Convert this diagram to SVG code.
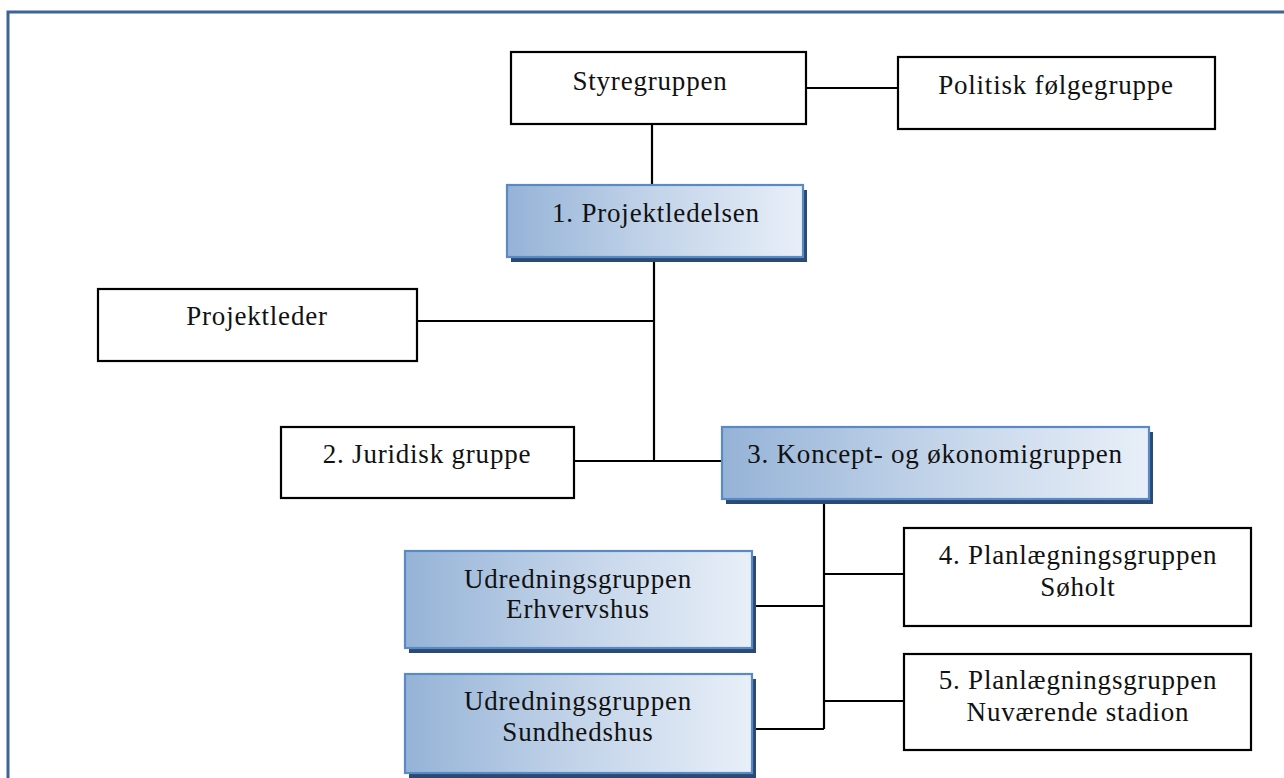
<svg xmlns="http://www.w3.org/2000/svg" width="1284" height="778" viewBox="0 0 1284 778">
<defs>
<linearGradient id="blueGrad" x1="0" y1="0" x2="1" y2="0">
<stop offset="0" stop-color="#95B3D7"/>
<stop offset="0.5" stop-color="#C3D4E9"/>
<stop offset="1" stop-color="#E8EFF8"/>
</linearGradient>
<style>
.plain{fill:#FFFFFF;stroke:#000000;stroke-width:2.2}
.shadow{fill:#2A4A74}
.grad{fill:url(#blueGrad);stroke:#5A8AC6;stroke-width:2.2}
.t{font-family:"Liberation Serif","Times New Roman",serif;font-size:27px;letter-spacing:0.8px;fill:#111111;text-anchor:middle}
.conn{stroke:#000000;stroke-width:2.2;fill:none}
</style>
</defs>
<rect width="1284" height="778" fill="#FFFFFF"/>
<rect x="8" y="12" width="1300" height="800" fill="none" stroke="#3C6497" stroke-width="3"/>

<g id="connectors">
<line class="conn" x1="806" y1="88" x2="898" y2="88"/>
<line class="conn" x1="652" y1="124" x2="652" y2="185"/>
<line class="conn" x1="654" y1="258" x2="654" y2="461"/>
<line class="conn" x1="417" y1="321" x2="654" y2="321"/>
<line class="conn" x1="574" y1="461" x2="722" y2="461"/>
<line class="conn" x1="824" y1="500" x2="824" y2="729"/>
<line class="conn" x1="824" y1="574" x2="904" y2="574"/>
<line class="conn" x1="752" y1="606" x2="824" y2="606"/>
<line class="conn" x1="824" y1="701" x2="904" y2="701"/>
<line class="conn" x1="752" y1="729" x2="824" y2="729"/>
</g>

<g id="styregruppen">
<rect class="plain" x="511" y="52" width="295" height="72"/>
<text class="t" x="650" y="90">Styregruppen</text>
</g>

<g id="politisk">
<rect class="plain" x="898" y="57" width="317" height="72"/>
<text class="t" x="1056" y="94">Politisk følgegruppe</text>
</g>

<g id="projektledelsen">
<rect class="shadow" x="511" y="190" width="296" height="72"/>
<rect class="grad" x="507" y="185" width="296" height="72"/>
<text class="t" x="656" y="222">1. Projektledelsen</text>
</g>

<g id="projektleder">
<rect class="plain" x="98" y="289" width="319" height="72"/>
<text class="t" x="257" y="325">Projektleder</text>
</g>

<g id="juridisk">
<rect class="plain" x="281" y="427" width="293" height="71"/>
<text class="t" x="427" y="463">2. Juridisk gruppe</text>
</g>

<g id="koncept">
<rect class="shadow" x="726" y="432" width="427" height="72"/>
<rect class="grad" x="722" y="427" width="427" height="72"/>
<text class="t" x="935" y="463">3. Koncept- og økonomigruppen</text>
</g>

<g id="erhvervshus">
<rect class="shadow" x="409" y="556" width="347" height="97"/>
<rect class="grad" x="405" y="551" width="347" height="97"/>
<text class="t" x="578" y="588">Udredningsgruppen</text>
<text class="t" x="578" y="618">Erhvervshus</text>
</g>

<g id="sundhedshus">
<rect class="shadow" x="409" y="679" width="347" height="99"/>
<rect class="grad" x="405" y="674" width="347" height="99"/>
<text class="t" x="578" y="710">Udredningsgruppen</text>
<text class="t" x="578" y="741">Sundhedshus</text>
</g>

<g id="planlaegning4">
<rect class="plain" x="904" y="528" width="347" height="98"/>
<text class="t" x="1078" y="564">4. Planlægningsgruppen</text>
<text class="t" x="1078" y="596">Søholt</text>
</g>

<g id="planlaegning5">
<rect class="plain" x="904" y="654" width="347" height="96"/>
<text class="t" x="1078" y="689">5. Planlægningsgruppen</text>
<text class="t" x="1078" y="721">Nuværende stadion</text>
</g>
</svg>
